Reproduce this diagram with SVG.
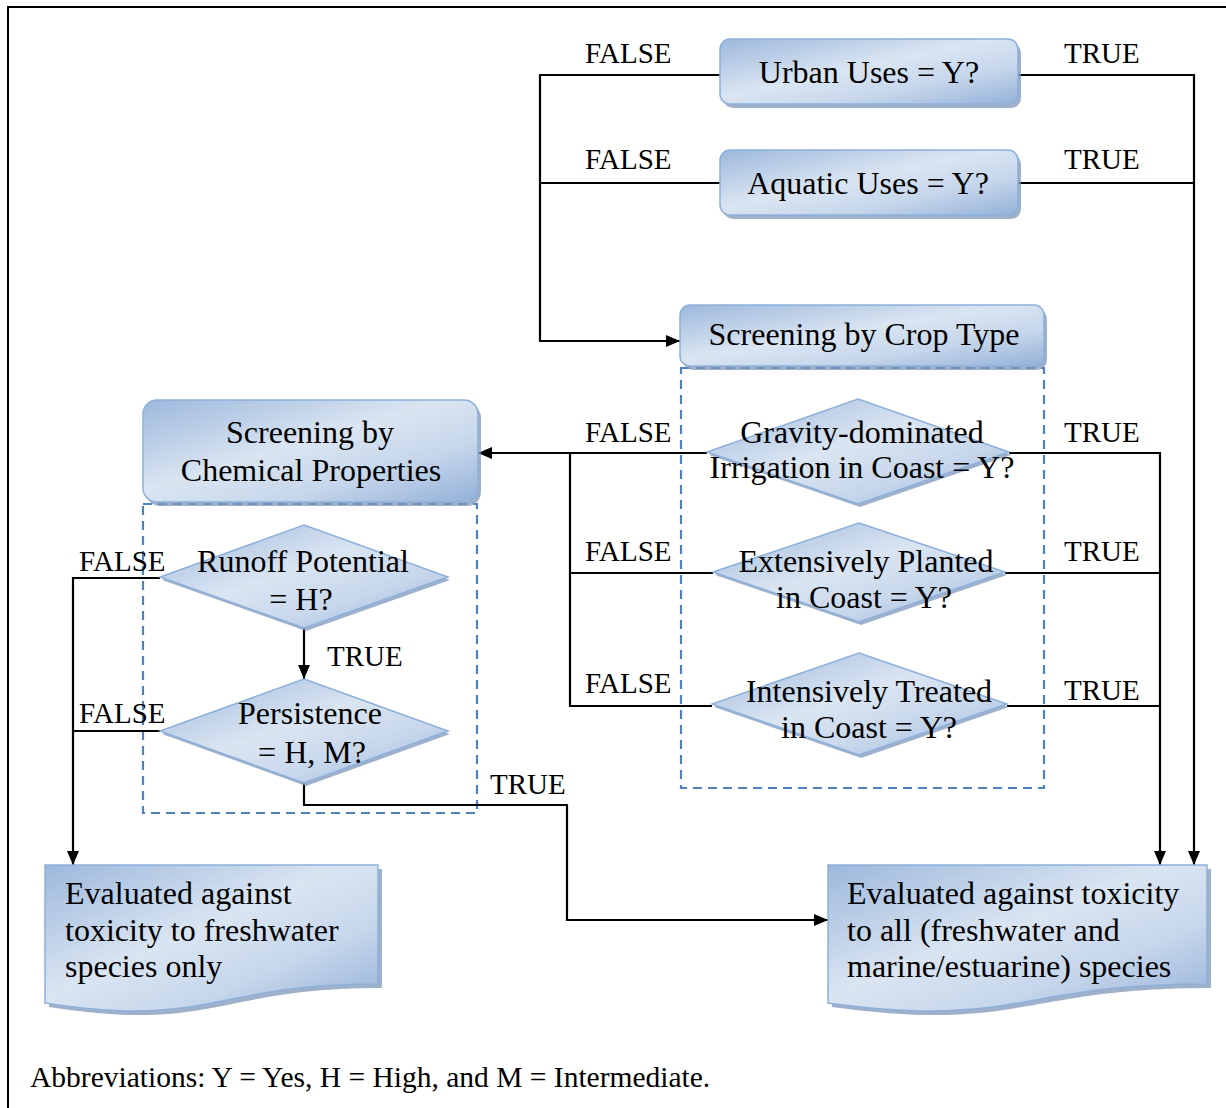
<svg xmlns="http://www.w3.org/2000/svg" width="1226" height="1108" viewBox="0 0 1226 1108">
<defs>
<linearGradient id="g" x1="0" y1="0" x2="1" y2="1">
<stop offset="0" stop-color="#9db8dc"/>
<stop offset="0.45" stop-color="#dae5f2"/>
<stop offset="0.7" stop-color="#c6d6eb"/>
<stop offset="1" stop-color="#93b1d8"/>
</linearGradient>
<marker id="ah" viewBox="0 0 14 12" refX="14" refY="6" markerWidth="14" markerHeight="12" markerUnits="userSpaceOnUse" orient="auto">
<path d="M0,0 L14,6 L0,12 Z" fill="#000"/>
</marker>
</defs>
<style>
.box{fill:url(#g);stroke:#8db0da;stroke-width:1.5}
.sh{fill:#7f97b8;opacity:0.75}
.dash{fill:none;stroke:#4f81bd;stroke-width:2.2;stroke-dasharray:9 6}
.ln{fill:none;stroke:#000;stroke-width:2.2}
.t{font-family:"Liberation Serif","Times New Roman",serif;font-size:32px;fill:#000}
.c{text-anchor:middle}
.lb{font-family:"Liberation Serif","Times New Roman",serif;font-size:29px;fill:#000}
</style>
<rect x="8" y="7" width="1240" height="1120" fill="#fff" stroke="#000" stroke-width="2"/>

<rect class="dash" x="681" y="368" width="363" height="420"/>
<rect class="dash" x="143" y="504" width="334" height="309"/>

<g id="connectors">
<path class="ln" d="M720,75 H540 V341 H680" marker-end="url(#ah)"/>
<path class="ln" d="M720,183 H540"/>
<path class="ln" d="M1018,75 H1194 V865" marker-end="url(#ah)"/>
<path class="ln" d="M1018,183 H1194"/>
<path class="ln" d="M707,453 H478" marker-end="url(#ah)"/>
<path class="ln" d="M713,573 H570 V453"/>
<path class="ln" d="M712,706 H570 V573"/>
<path class="ln" d="M1009,453 H1160 V865" marker-end="url(#ah)"/>
<path class="ln" d="M1005,573 H1160"/>
<path class="ln" d="M1007,706 H1160"/>
<path class="ln" d="M304,628 V679" marker-end="url(#ah)"/>
<path class="ln" d="M160,578 H73 V865" marker-end="url(#ah)"/>
<path class="ln" d="M160,731 H73"/>
<path class="ln" d="M304,783 V805 H567 V920 H828" marker-end="url(#ah)"/>
<text class="lb" x="585" y="63">FALSE</text>
<text class="lb" x="585" y="169">FALSE</text>
<text class="lb" x="1064" y="63">TRUE</text>
<text class="lb" x="1064" y="169">TRUE</text>
<text class="lb" x="585" y="442">FALSE</text>
<text class="lb" x="585" y="561">FALSE</text>
<text class="lb" x="585" y="693">FALSE</text>
<text class="lb" x="1064" y="442">TRUE</text>
<text class="lb" x="1064" y="561">TRUE</text>
<text class="lb" x="1064" y="700">TRUE</text>
<text class="lb" x="79" y="571">FALSE</text>
<text class="lb" x="79" y="723">FALSE</text>
<text class="lb" x="327" y="666">TRUE</text>
<text class="lb" x="490" y="794">TRUE</text>
</g>

<g id="urban">
<rect class="sh" x="723" y="43" width="298" height="65" rx="10"/>
<rect class="box" x="720" y="39" width="298" height="65" rx="10"/>
<text class="t c" x="869" y="83">Urban Uses = Y?</text>
</g>
<g id="aquatic">
<rect class="sh" x="723" y="154" width="298" height="65" rx="10"/>
<rect class="box" x="720" y="150" width="298" height="65" rx="10"/>
<text class="t c" x="868" y="194">Aquatic Uses = Y?</text>
</g>
<g id="crop">
<rect class="sh" x="683" y="309" width="364" height="61" rx="10"/>
<rect class="box" x="680" y="305" width="364" height="61" rx="10"/>
<text class="t c" x="864" y="345">Screening by Crop Type</text>
</g>
<g id="gravity">
<polygon class="sh" points="860,402 1011,455 860,507 709,455"/>
<polygon class="box" points="858,399 1009,452 858,504 707,452"/>
<text class="t c" x="862" y="443">Gravity-dominated</text>
<text class="t c" x="862" y="478">Irrigation in Coast = Y?</text>
</g>
<g id="extensive">
<polygon class="sh" points="861,526 1007,575 861,625 715,575"/>
<polygon class="box" points="859,523 1005,572 859,622 713,572"/>
<text class="t c" x="866" y="572">Extensively Planted</text>
<text class="t c" x="864" y="608">in Coast = Y?</text>
</g>
<g id="intensive">
<polygon class="sh" points="861,656 1009,707 861,758 714,707"/>
<polygon class="box" points="859,653 1007,704 859,755 712,704"/>
<text class="t c" x="869" y="702">Intensively Treated</text>
<text class="t c" x="869" y="738">in Coast = Y?</text>
</g>
<g id="chemical">
<rect class="sh" x="146" y="404" width="335" height="102" rx="14"/>
<rect class="box" x="143" y="400" width="335" height="102" rx="14"/>
<text class="t c" x="310" y="443">Screening by</text>
<text class="t c" x="311" y="481">Chemical Properties</text>
</g>
<g id="runoff">
<polygon class="sh" points="306,528 450,580 306,631 162,580"/>
<polygon class="box" points="304,525 448,577 304,628 160,577"/>
<text class="t c" x="303" y="572">Runoff Potential</text>
<text class="t c" x="301" y="610">= H?</text>
</g>
<g id="persistence">
<polygon class="sh" points="306,682 450,734 306,786 162,734"/>
<polygon class="box" points="304,679 448,731 304,783 160,731"/>
<text class="t c" x="310" y="724">Persistence</text>
<text class="t c" x="312" y="763">= H, M?</text>
</g>
<g id="freshwater">
<path class="sh" d="M49,869 H382 V988 C215,988 215,1033 49,1007 Z"/>
<path class="box" d="M45,865 H378 V984 C211,984 211,1029 45,1003 Z"/>
<text class="t" x="65" y="904">Evaluated against</text>
<text class="t" x="65" y="941">toxicity to freshwater</text>
<text class="t" x="65" y="977">species only</text>
</g>
<g id="allspecies">
<path class="sh" d="M832,869 H1211 V988 C1021,988 1021,1033 832,1007 Z"/>
<path class="box" d="M828,865 H1207 V984 C1017,984 1017,1029 828,1003 Z"/>
<text class="t" x="847" y="904">Evaluated against toxicity</text>
<text class="t" x="847" y="941">to all (freshwater and</text>
<text class="t" x="847" y="977">marine/estuarine) species</text>
</g>
<text class="lb" x="30" y="1087" style="font-size:29.5px">Abbreviations: Y = Yes, H = High, and M = Intermediate.</text>
</svg>
